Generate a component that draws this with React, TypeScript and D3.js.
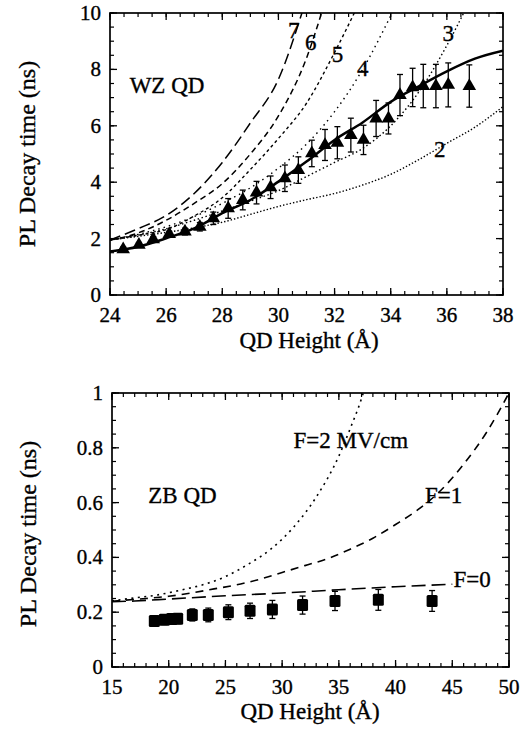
import React from "react";
import * as d3 from "d3";

// ---------- Top panel (WZ QD) data ----------
const wzHeight = [24.47, 25.03, 25.54, 26.11, 26.67, 27.2, 27.68, 28.21, 28.73, 29.22, 29.72, 30.23, 30.71, 31.19, 31.66, 32.1, 32.58, 33.03, 33.48, 33.92, 34.33, 34.78, 35.16, 35.61, 36.05, 36.8];
const wzTime = [1.62, 1.78, 1.97, 2.16, 2.25, 2.42, 2.72, 3.07, 3.37, 3.63, 3.82, 4.14, 4.43, 5.02, 5.32, 5.4, 5.67, 5.5, 6.26, 6.26, 7.09, 7.36, 7.41, 7.41, 7.45, 7.41];
const wzErr = [0.08, 0.08, 0.1, 0.1, 0.12, 0.15, 0.22, 0.35, 0.35, 0.4, 0.4, 0.47, 0.47, 0.47, 0.55, 0.57, 0.6, 0.52, 0.64, 0.55, 0.73, 0.68, 0.77, 0.77, 0.78, 0.75];

const fitX = [24, 25, 26, 27, 28, 29, 30, 31, 32, 33, 34, 35, 36, 37, 38];
const fitSolid = [1.54, 1.71, 2.01, 2.36, 2.9, 3.37, 4.02, 4.73, 5.5, 6.12, 6.85, 7.4, 7.93, 8.38, 8.66];
const curve2Y = [1.95, 2.08, 2.22, 2.38, 2.58, 2.86, 3.14, 3.38, 3.6, 3.9, 4.28, 4.8, 5.38, 5.95, 6.68];
const curve3X = [24, 25, 26, 27, 28, 29, 30, 31, 32, 33, 34, 35, 36, 36.7];
const curve3Y = [1.95, 2.12, 2.35, 2.65, 2.98, 3.33, 3.7, 4.2, 4.7, 5.2, 6.0, 7.2, 8.85, 10.2];
const curve4X = [24, 25, 26, 27, 28, 29, 30, 31, 32, 33, 34, 34.2];
const curve4Y = [1.95, 2.15, 2.42, 2.78, 3.25, 3.8, 4.5, 5.35, 6.5, 8.0, 9.9, 10.3];
const curve5X = [24, 25, 26, 27, 28, 29, 30, 31, 32, 32.8];
const curve5Y = [1.95, 2.12, 2.32, 2.8, 3.45, 4.45, 5.55, 6.8, 8.6, 10.2];
const curve6X = [24, 25, 26, 27, 28, 29, 30, 31, 31.6];
const curve6Y = [1.95, 2.2, 2.65, 3.25, 3.95, 5.0, 6.35, 8.4, 10.2];
const curve7X = [24, 25, 26, 27, 28, 29, 30, 30.9];
const curve7Y = [1.95, 2.35, 2.82, 3.6, 4.7, 6.1, 7.65, 10.2];

const curveLabels = ["7", "6", "5", "4", "3", "2"];
const curveLabelX = [30.55, 31.15, 32.1, 33.0, 36.05, 35.75];
const curveLabelY = [9.1, 8.7, 8.27, 7.75, 9.0, 4.9];

const wzXTicks = [24, 26, 28, 30, 32, 34, 36, 38];
const wzYTicks = [0, 2, 4, 6, 8, 10];

// ---------- Bottom panel (ZB QD) data ----------
const zbHeight = [18.73, 19.61, 20.26, 20.79, 22.08, 23.49, 25.26, 27.17, 29.14, 31.8, 34.66, 38.48, 43.22];
const zbTime = [0.168, 0.172, 0.175, 0.176, 0.19, 0.19, 0.2, 0.205, 0.21, 0.226, 0.241, 0.245, 0.241];
const zbErr = [0.015, 0.017, 0.017, 0.018, 0.022, 0.025, 0.027, 0.028, 0.033, 0.033, 0.035, 0.038, 0.038];

const f0X = [15, 17, 20, 25, 30, 35, 40, 45];
const f0Y = [0.238, 0.241, 0.248, 0.26, 0.27, 0.282, 0.293, 0.302];
const f1X = [15, 18, 20, 22, 24, 26, 28, 30, 32, 34, 36, 38, 40, 42, 44, 46, 48, 50];
const f1Y = [0.24, 0.25, 0.258, 0.27, 0.285, 0.3, 0.32, 0.345, 0.37, 0.395, 0.43, 0.47, 0.52, 0.575, 0.645, 0.74, 0.855, 1.0];
const f2X = [15, 17, 19, 21, 23, 25, 27, 29, 31, 33, 35, 36, 37, 37.3];
const f2Y = [0.242, 0.252, 0.263, 0.28, 0.3, 0.33, 0.375, 0.43, 0.51, 0.62, 0.77, 0.87, 0.98, 1.02];

const fieldLabels = ["F=2 MV/cm", "F=1", "F=0"];
const fieldLabelX = [31.0, 42.6, 45.1];
const fieldLabelY = [0.8, 0.6, 0.293];

const zbXTicks = [15, 20, 25, 30, 35, 40, 45, 50];
const zbYTicks = [0, 0.2, 0.4, 0.6, 0.8, 1];
const zbYTickLabels = ["0", "0.2", "0.4", "0.6", "0.8", "1"];

const FONT = "'Liberation Serif', 'Times New Roman', serif";
const TXT = { fontFamily: FONT, fill: "#000", stroke: "#000", strokeWidth: 0.35 } as any;

type Series = { xs: number[]; ys: number[]; dash: string; width: number };

function zip(xs: number[], ys: number[]): [number, number][] {
  return xs.map((x, i) => [x, ys[i]]);
}

function Axes({ x, y, xMajor, xMinorStep, yMajor, yMinorStep, xLabels, yLabels, id }: any) {
  const [x0, x1] = x.range();
  const [y0, y1] = y.range();
  const xd = x.domain();
  const yd = y.domain();
  const xMinor = d3.range(xd[0], xd[1] + 1e-9, xMinorStep);
  const yMinor = d3.range(yd[0], yd[1] + 1e-9, yMinorStep);
  const maj = 7, min = 4;
  return (
    <g>
      <rect x={x0} y={y1} width={x1 - x0} height={y0 - y1} fill="none" stroke="#000" strokeWidth={1.7} />
      {xMinor.map((v: number, i: number) => (
        <g key={"xm" + id + i}>
          <line x1={x(v)} x2={x(v)} y1={y0} y2={y0 - min} stroke="#000" strokeWidth={1.2} />
          <line x1={x(v)} x2={x(v)} y1={y1} y2={y1 + min} stroke="#000" strokeWidth={1.2} />
        </g>
      ))}
      {xMajor.map((v: number, i: number) => (
        <g key={"xM" + id + i}>
          <line x1={x(v)} x2={x(v)} y1={y0} y2={y0 - maj} stroke="#000" strokeWidth={1.3} />
          <line x1={x(v)} x2={x(v)} y1={y1} y2={y1 + maj} stroke="#000" strokeWidth={1.3} />
          <text x={x(v)} y={y0 + 27} textAnchor="middle" fontSize={21} {...TXT}>{xLabels[i]}</text>
        </g>
      ))}
      {yMinor.map((v: number, i: number) => (
        <g key={"ym" + id + i}>
          <line x1={x0} x2={x0 + min} y1={y(v)} y2={y(v)} stroke="#000" strokeWidth={1.2} />
          <line x1={x1} x2={x1 - min} y1={y(v)} y2={y(v)} stroke="#000" strokeWidth={1.2} />
        </g>
      ))}
      {yMajor.map((v: number, i: number) => (
        <g key={"yM" + id + i}>
          <line x1={x0} x2={x0 + maj} y1={y(v)} y2={y(v)} stroke="#000" strokeWidth={1.3} />
          <line x1={x1} x2={x1 - maj} y1={y(v)} y2={y(v)} stroke="#000" strokeWidth={1.3} />
          <text x={x0 - 9} y={y(v) + 7} textAnchor="end" fontSize={21} {...TXT}>{yLabels[i]}</text>
        </g>
      ))}
    </g>
  );
}

export default function App() {
  // Top panel
  const xT = d3.scaleLinear().domain([24, 38]).range([110, 503]);
  const yT = d3.scaleLinear().domain([0, 10]).range([295, 13]);
  const lineT = d3.line<[number, number]>().x(d => xT(d[0])).y(d => yT(d[1])).curve(d3.curveMonotoneX);

  const topSeries: Series[] = [
    { xs: fitX, ys: curve2Y, dash: "1.4,2", width: 1.4 },
    { xs: curve3X, ys: curve3Y, dash: "1.5,2.6", width: 1.4 },
    { xs: curve4X, ys: curve4Y, dash: "1.5,4", width: 1.4 },
    { xs: curve5X, ys: curve5Y, dash: "3,3", width: 1.4 },
    { xs: curve6X, ys: curve6Y, dash: "6,4", width: 1.5 },
    { xs: curve7X, ys: curve7Y, dash: "11,5", width: 1.5 },
  ];

  // Bottom panel
  const xB = d3.scaleLinear().domain([15, 50]).range([112, 509]);
  const yB = d3.scaleLinear().domain([0, 1]).range([667, 393]);
  const lineB = d3.line<[number, number]>().x(d => xB(d[0])).y(d => yB(d[1])).curve(d3.curveMonotoneX);

  const botSeries: Series[] = [
    { xs: f0X, ys: f0Y, dash: "14,6", width: 1.6 },
    { xs: f1X, ys: f1Y, dash: "8,6", width: 1.6 },
    { xs: f2X, ys: f2Y, dash: "2,4.5", width: 1.6 },
  ];

  const tri = d3.symbol().type(d3.symbolTriangle).size(80)();

  return (
    <svg width={531} height={737} style={{ position: "absolute", left: 0, top: 0, background: "#fff" }}>
      <defs>
        <clipPath id="clipTop"><rect x={110} y={13} width={393} height={282} /></clipPath>
        <clipPath id="clipBot"><rect x={112} y={393} width={397} height={274} /></clipPath>
      </defs>
      <rect width={531} height={737} fill="#fff" />

      {/* ---------- Top panel ---------- */}
      <g clipPath="url(#clipTop)">
        {topSeries.map((s, i) => (
          <path key={"ts" + i} d={lineT(zip(s.xs, s.ys)) || ""} fill="none" stroke="#000" strokeWidth={s.width} strokeDasharray={s.dash} />
        ))}
        <path d={lineT(zip(fitX, fitSolid)) || ""} fill="none" stroke="#000" strokeWidth={2.5} />
      </g>
      {wzHeight.map((h, i) => (
        <g key={"wz" + i}>
          <line x1={xT(h)} x2={xT(h)} y1={yT(wzTime[i] - wzErr[i])} y2={yT(wzTime[i] + wzErr[i])} stroke="#000" strokeWidth={1.3} />
          <line x1={xT(h) - 3} x2={xT(h) + 3} y1={yT(wzTime[i] + wzErr[i])} y2={yT(wzTime[i] + wzErr[i])} stroke="#000" strokeWidth={1.3} />
          <line x1={xT(h) - 3} x2={xT(h) + 3} y1={yT(wzTime[i] - wzErr[i])} y2={yT(wzTime[i] - wzErr[i])} stroke="#000" strokeWidth={1.3} />
          <path d={tri || ""} transform={`translate(${xT(h)},${yT(wzTime[i])})`} fill="#000" />
        </g>
      ))}
      {curveLabels.map((l, i) => (
        <text key={"cl" + i} x={xT(curveLabelX[i])} y={yT(curveLabelY[i])} textAnchor="middle" fontSize={23} {...TXT}>{l}</text>
      ))}
      <text x={xT(24.7)} y={yT(7.15)} fontSize={23} {...TXT}>WZ QD</text>
      <Axes x={xT} y={yT} xMajor={wzXTicks} xMinorStep={0.5} yMajor={wzYTicks} yMinorStep={0.5}
        xLabels={wzXTicks.map(String)} yLabels={wzYTicks.map(String)} id="t" />
      <text x={309} y={348} textAnchor="middle" fontSize={23} {...TXT}>QD Height (Å)</text>
      <text transform={`translate(35,154) rotate(-90)`} textAnchor="middle" fontSize={24} {...TXT}>PL Decay time (ns)</text>

      {/* ---------- Bottom panel ---------- */}
      <g clipPath="url(#clipBot)">
        {botSeries.map((s, i) => (
          <path key={"bs" + i} d={lineB(zip(s.xs, s.ys)) || ""} fill="none" stroke="#000" strokeWidth={s.width} strokeDasharray={s.dash} />
        ))}
      </g>
      {zbHeight.map((h, i) => (
        <g key={"zb" + i}>
          <line x1={xB(h)} x2={xB(h)} y1={yB(zbTime[i] - zbErr[i])} y2={yB(zbTime[i] + zbErr[i])} stroke="#000" strokeWidth={1.3} />
          <line x1={xB(h) - 3} x2={xB(h) + 3} y1={yB(zbTime[i] + zbErr[i])} y2={yB(zbTime[i] + zbErr[i])} stroke="#000" strokeWidth={1.3} />
          <line x1={xB(h) - 3} x2={xB(h) + 3} y1={yB(zbTime[i] - zbErr[i])} y2={yB(zbTime[i] - zbErr[i])} stroke="#000" strokeWidth={1.3} />
          <rect x={xB(h) - 5.5} y={yB(zbTime[i]) - 6} width={11} height={12} rx={1.5} fill="#000" />
        </g>
      ))}
      {fieldLabels.map((l, i) => (
        <text key={"fl" + i} x={xB(fieldLabelX[i])} y={yB(fieldLabelY[i])} fontSize={23} {...TXT}>{l}</text>
      ))}
      <text x={xB(18.2)} y={yB(0.6)} fontSize={23} {...TXT}>ZB QD</text>
      <Axes x={xB} y={yB} xMajor={zbXTicks} xMinorStep={1} yMajor={zbYTicks} yMinorStep={0.05}
        xLabels={zbXTicks.map(String)} yLabels={zbYTickLabels} id="b" />
      <text x={310} y={719} textAnchor="middle" fontSize={23} {...TXT}>QD Height (Å)</text>
      <text transform={`translate(36,534) rotate(-90)`} textAnchor="middle" fontSize={24} {...TXT}>PL Decay time (ns)</text>
    </svg>
  );
}
